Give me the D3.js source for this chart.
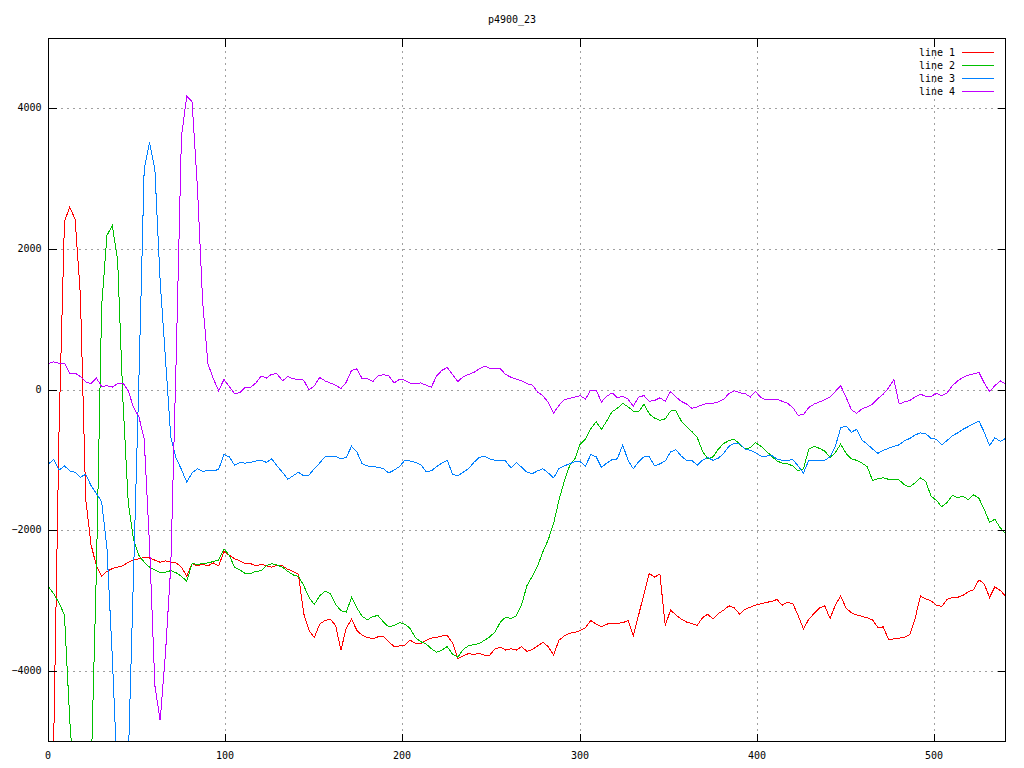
<!DOCTYPE html>
<html><head><meta charset="utf-8">
<script src="https://cdn.jsdelivr.net/npm/d3@7"></script>
<style>
html,body{margin:0;padding:0;background:#fff;}
svg{display:block;}
text{font-family:"DejaVu Sans Mono",monospace;font-size:10px;fill:#000;}
</style></head>
<body>
<svg id="chart" width="1024" height="768"></svg>
<script>
const title = "p4900_23";
const seriesNames = ["line 1", "line 2", "line 3", "line 4"];
const seriesColors = ["#ff0000", "#00c000", "#0080ff", "#c000ff"];
const xTicks = [0, 100, 200, 300, 400, 500];
const yTicks = [-4000, -2000, 0, 2000, 4000];
const xDomain = [0, 540];
const yDomain = [-5000, 5000];
const xStep = 3;
const xs = d3.range(0, 541, xStep);

const line1 = [
-6000,-4900,-500,2400,2600,2430,1350,-1550,-2200,-2500,
-2650,-2580,-2540,-2520,-2500,-2450,-2420,-2400,-2380,-2390,
-2420,-2450,-2430,-2450,-2460,-2520,-2650,-2470,-2500,-2480,
-2500,-2460,-2500,-2300,-2350,-2400,-2430,-2470,-2470,-2500,
-2480,-2500,-2520,-2490,-2500,-2550,-2580,-2620,-3180,-3420,
-3520,-3330,-3280,-3260,-3350,-3700,-3390,-3260,-3420,-3490,
-3520,-3540,-3510,-3510,-3580,-3650,-3640,-3630,-3560,-3600,
-3610,-3560,-3530,-3520,-3500,-3490,-3600,-3820,-3780,-3750,
-3760,-3750,-3770,-3770,-3680,-3660,-3700,-3680,-3700,-3650,
-3720,-3690,-3640,-3590,-3650,-3770,-3560,-3500,-3460,-3450,
-3420,-3380,-3280,-3330,-3370,-3330,-3320,-3320,-3310,-3280,
-3490,-3200,-2900,-2610,-2660,-2620,-3350,-3130,-3200,-3260,
-3300,-3320,-3350,-3240,-3190,-3260,-3180,-3130,-3070,-3100,
-3190,-3120,-3090,-3060,-3040,-3020,-3010,-2980,-3060,-3020,
-3040,-3210,-3400,-3260,-3180,-3100,-3070,-3250,-3060,-2930,
-3100,-3170,-3200,-3220,-3240,-3270,-3380,-3370,-3550,-3540,
-3530,-3520,-3480,-3250,-2930,-2970,-3000,-3060,-3080,-2980,
-2950,-2950,-2920,-2870,-2840,-2700,-2760,-2950,-2800,-2850,
-2930];

const line2 = [
-2800,-2900,-3030,-3200,-4700,-5800,-6400,-6200,-5500,-2600,
1200,2200,2340,1850,-150,-1600,-2130,-2350,-2450,-2520,
-2560,-2600,-2590,-2570,-2600,-2650,-2720,-2470,-2480,-2470,
-2460,-2440,-2420,-2260,-2350,-2520,-2560,-2610,-2610,-2580,
-2570,-2500,-2470,-2490,-2520,-2580,-2630,-2650,-2780,-2950,
-3050,-2930,-2860,-2900,-3050,-3140,-3160,-2950,-3100,-3220,
-3270,-3220,-3210,-3300,-3370,-3350,-3310,-3330,-3390,-3520,
-3580,-3610,-3680,-3730,-3700,-3650,-3760,-3800,-3690,-3640,
-3620,-3610,-3560,-3510,-3440,-3300,-3230,-3250,-3210,-3050,
-2780,-2650,-2500,-2300,-2130,-1900,-1570,-1300,-1080,-980,
-770,-700,-550,-450,-560,-440,-310,-260,-190,-240,
-300,-310,-200,-340,-400,-430,-410,-300,-290,-440,
-520,-590,-670,-870,-980,-950,-840,-760,-720,-700,
-770,-840,-820,-750,-800,-870,-940,-1010,-1040,-1050,
-1080,-1150,-1120,-840,-800,-830,-870,-960,-890,-770,
-900,-980,-1000,-1040,-1090,-1290,-1260,-1250,-1270,-1280,
-1280,-1350,-1380,-1320,-1250,-1300,-1510,-1570,-1660,-1600,
-1500,-1530,-1510,-1560,-1490,-1540,-1700,-1880,-1840,-1960,
-2040];

const line3 = [
-1050,-990,-1140,-1080,-1150,-1170,-1240,-1200,-1360,-1470,
-1590,-2250,-3800,-5600,-6100,-5300,-2600,140,3150,3520,
3150,1550,450,-670,-970,-1130,-1310,-1180,-1120,-1160,
-1140,-1150,-1130,-920,-950,-1070,-1030,-1040,-1030,-1010,
-1000,-1030,-980,-1080,-1170,-1270,-1220,-1170,-1220,-1210,
-1120,-1040,-950,-940,-940,-980,-960,-800,-880,-1050,
-1080,-1090,-1100,-1120,-1180,-1140,-1090,-1000,-1010,-1030,
-1060,-1160,-1150,-1090,-1040,-1000,-1200,-1220,-1170,-1120,
-1030,-960,-940,-980,-1000,-1000,-1010,-1110,-1030,-1100,
-1170,-1190,-1150,-1120,-1180,-1250,-1120,-1080,-1050,-1020,
-1020,-1080,-920,-950,-1100,-1040,-990,-980,-780,-1000,
-1120,-1020,-950,-950,-1080,-1050,-1010,-880,-850,-940,
-1000,-1000,-1070,-1000,-960,-1000,-970,-900,-800,-760,
-760,-840,-860,-890,-940,-940,-930,-980,-1000,-1000,
-990,-1080,-1180,-1000,-1000,-1000,-1000,-950,-800,-540,
-510,-600,-560,-710,-770,-840,-900,-860,-830,-800,
-780,-720,-690,-640,-610,-620,-690,-700,-780,-720,
-650,-610,-560,-520,-480,-440,-600,-790,-680,-730,
-690];

const line4 = [
375,400,380,380,230,240,190,115,90,170,
50,60,40,90,100,-10,-250,-380,-700,-2200,
-4200,-4700,-3750,-2500,400,3600,4180,4100,2900,1250,
370,160,-10,150,50,-50,-40,40,35,100,
200,170,225,230,130,190,160,150,140,0,
60,180,130,100,70,20,110,280,300,160,
160,120,200,220,200,100,150,140,100,90,
100,70,40,200,280,320,220,120,190,220,
250,300,340,310,300,300,220,180,155,130,
90,70,-30,-80,-180,-330,-220,-140,-120,-100,
-80,-130,0,0,-170,-90,-40,-110,-90,-130,
-230,-100,-80,-160,-150,-110,-160,-20,-100,-160,
-200,-260,-240,-210,-190,-190,-170,-130,-50,-10,
-40,-50,-100,-20,-110,-140,-140,-130,-160,-190,
-250,-360,-350,-250,-200,-170,-140,-100,-20,60,
-100,-280,-330,-270,-240,-200,-120,-60,30,150,
-200,-170,-150,-100,-60,-90,-90,-50,-80,-40,
60,130,180,210,230,250,100,-20,60,130,
90];

const seriesValues = [line1, line2, line3, line4];

const svg = d3.select("#chart");
const L = 48.5, R = 1005.5, T = 38.5, B = 741.5;
const x = d3.scaleLinear().domain(xDomain).range([L, R]);
const y = d3.scaleLinear().domain(yDomain).range([B, T]);
const snap = v => Math.floor(v) + 0.5;

// title
svg.append("text").attr("x", 512).attr("y", 23).attr("text-anchor", "middle").text(title);

// grid
const grid = svg.append("g").attr("stroke", "#a0a0a0").attr("stroke-width", 1)
  .attr("stroke-dasharray", "2,4").attr("shape-rendering", "crispEdges");
xTicks.filter(t => t > xDomain[0] && t < xDomain[1]).forEach(t => {
  grid.append("line").attr("x1", snap(x(t))).attr("x2", snap(x(t))).attr("y1", T).attr("y2", B);
});
yTicks.forEach(t => {
  grid.append("line").attr("x1", L).attr("x2", R).attr("y1", snap(y(t))).attr("y2", snap(y(t)));
});

// clip
svg.append("clipPath").attr("id", "clip").append("rect")
  .attr("x", L).attr("y", T).attr("width", R - L).attr("height", B - T);

// lines
const lineGen = d3.line().x((d, i) => x(xs[i])).y(d => y(d));
const plot = svg.append("g").attr("clip-path", "url(#clip)");
seriesValues.forEach((vals, k) => {
  plot.append("path").datum(vals)
    .attr("fill", "none").attr("stroke", seriesColors[k]).attr("stroke-width", 1)
    .attr("shape-rendering", "crispEdges")
    .attr("d", lineGen);
});

// axes (ticks inward, mirrored)
function styleAxis(g) {
  g.select(".domain").remove();
  g.selectAll(".tick line").attr("stroke", "#000").attr("shape-rendering", "crispEdges");
  g.selectAll(".tick text").attr("font-family", "DejaVu Sans Mono, monospace").attr("font-size", 10).attr("fill", "#000");
}
const fmt = d3.format("d");
svg.append("g").attr("transform", `translate(0,${B})`)
  .call(d3.axisBottom(x).tickValues(xTicks).tickSize(-8).tickPadding(10).tickFormat(fmt)
    .offset(0)).call(styleAxis);
svg.append("g").attr("transform", `translate(0,${T})`)
  .call(d3.axisTop(x).tickValues(xTicks).tickSize(-8).tickFormat("").offset(0)).call(styleAxis);
svg.append("g").attr("transform", `translate(${L},0)`)
  .call(d3.axisLeft(y).tickValues(yTicks).tickSize(-8).tickPadding(7).tickFormat(fmt).offset(0)).call(styleAxis);
svg.append("g").attr("transform", `translate(${R},0)`)
  .call(d3.axisRight(y).tickValues(yTicks).tickSize(-8).tickFormat("").offset(0)).call(styleAxis);
svg.selectAll(".tick").attr("transform", function() {
  const t = d3.select(this).attr("transform");
  const m = /translate\(([-\d.]+),([-\d.]+)\)/.exec(t);
  return m ? `translate(${snap(+m[1]) - 0.5},${snap(+m[2]) - 0.5})` : t;
});

// border
svg.append("rect").attr("x", L).attr("y", T).attr("width", R - L).attr("height", B - T)
  .attr("fill", "none").attr("stroke", "#000").attr("stroke-width", 1).attr("shape-rendering", "crispEdges");

// legend
const leg = svg.append("g");
seriesNames.forEach((name, k) => {
  const ly = 52 + k * 13;
  leg.append("text").attr("x", 955).attr("y", ly).attr("dy", "0.35em").attr("text-anchor", "end").text(name);
  leg.append("line").attr("x1", 962).attr("x2", 994).attr("y1", ly + 0.5).attr("y2", ly + 0.5)
    .attr("stroke", seriesColors[k]).attr("stroke-width", 1).attr("shape-rendering", "crispEdges");
});
</script>
</body></html>
